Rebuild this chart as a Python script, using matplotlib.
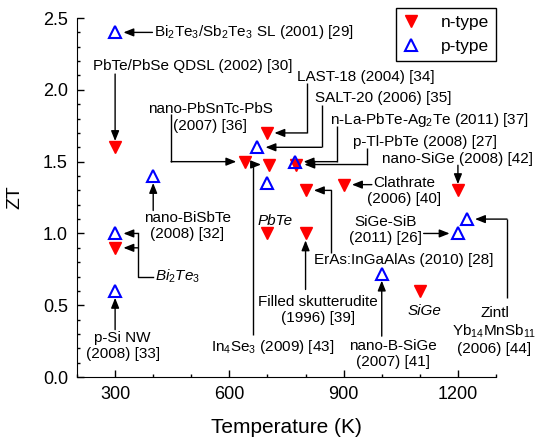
import matplotlib
matplotlib.use("Agg")
import matplotlib.pyplot as plt
from matplotlib.ticker import MultipleLocator

plt.rcParams['font.family'] = ['Liberation Sans', 'DejaVu Sans']
plt.rcParams['mathtext.fontset'] = 'custom'
plt.rcParams['mathtext.rm'] = 'Liberation Sans'
plt.rcParams['mathtext.it'] = 'Liberation Sans:italic'
plt.rcParams['mathtext.default'] = 'regular'

# n-type materials: temperature (K) and peak ZT
n_temp = [300, 300, 640, 705, 700, 775, 700, 800, 800, 900, 1200, 1100]
n_zt = [1.6, 0.9, 1.5, 1.48, 1.7, 1.48, 1.0, 1.0, 1.3, 1.34, 1.3, 0.6]

# p-type materials
p_temp = [300, 300, 300, 400, 673, 700, 773, 1000, 1200, 1223]
p_zt = [2.4, 1.0, 0.6, 1.4, 1.6, 1.35, 1.5, 0.72, 1.0, 1.1]

ANN = 11
ARROW = dict(arrowstyle='-|>,head_length=0.55,head_width=0.22', color='k',
             lw=1, shrinkA=0, mutation_scale=11)


def pointer(ax, pts, target, shrink=5):
    # plain line through pts, then an arrow from the last one onto the marker
    if len(pts) > 1:
        ax.plot([p[0] for p in pts], [p[1] for p in pts], color='k', lw=1,
                clip_on=False, solid_capstyle='butt')
    ax.annotate('', xy=target, xytext=pts[-1], annotation_clip=False,
                arrowprops=dict(ARROW, shrinkB=shrink))


fig = plt.figure(figsize=(5.36, 4.4), dpi=100)
ax = fig.add_axes([0.1437, 0.143, 0.7817, 0.816])

ax.plot(n_temp, n_zt, 'v', color='red', ms=9, mec='red', label='n-type', zorder=3)
ax.plot(p_temp, p_zt, '^', color='blue', ms=8.5, mfc='none', mew=1.5,
        label='p-type', zorder=4)

ax.set_xlim(200, 1300)
ax.set_ylim(0, 2.5)
ax.xaxis.set_major_locator(MultipleLocator(300))
ax.xaxis.set_minor_locator(MultipleLocator(100))
ax.yaxis.set_major_locator(MultipleLocator(0.5))
ax.yaxis.set_minor_locator(MultipleLocator(0.1))
ax.yaxis.set_major_formatter(matplotlib.ticker.FormatStrFormatter('%.1f'))
for s in ['top', 'right']:
    ax.spines[s].set_visible(False)
ax.tick_params(which='both', direction='in', width=1, labelsize=13)
ax.tick_params(which='major', length=5, pad=6.5)
ax.tick_params(which='minor', length=2.5)
ax.set_xlabel('Temperature (K)', fontsize=15)
ax.set_ylabel('ZT', fontsize=14)
ax.xaxis.set_label_coords(0.5, -0.114)
ax.yaxis.set_label_coords(-0.129, 0.5)

# labels and pointers
ax.text(403, 2.4, 'Bi$_2$Te$_3$/Sb$_2$Te$_3$ SL (2001) [29]', fontsize=ANN,
        ha='left', va='center')
pointer(ax, [(398, p_zt[0])], (p_temp[0], p_zt[0]), shrink=6)

ax.text(503, 2.165, 'PbTe/PbSe QDSL (2002) [30]', fontsize=ANN, ha='center', va='center')
pointer(ax, [(n_temp[0], 2.11)], (n_temp[0], n_zt[0]), shrink=4.5)

ax.text(958, 2.09, 'LAST-18 (2004) [34]', fontsize=ANN, ha='center', va='center')
pointer(ax, [(803, 2.05), (803, n_zt[4])], (n_temp[4], n_zt[4]), shrink=5)

ax.text(1003, 1.94, 'SALT-20 (2006) [35]', fontsize=ANN, ha='center', va='center')
pointer(ax, [(842, 1.895), (842, p_zt[4])], (p_temp[4], p_zt[4]), shrink=6)

ax.text(1124, 1.79, 'n-La-PbTe-Ag$_2$Te (2011) [37]', fontsize=ANN,
        ha='center', va='center')
pointer(ax, [(882, 1.745), (882, p_zt[6])], (p_temp[6], p_zt[6]), shrink=6)

ax.text(1113, 1.64, 'p-Tl-PbTe (2008) [27]', fontsize=ANN, ha='center', va='center')
pointer(ax, [(960, 1.595), (960, n_zt[5])], (n_temp[5], n_zt[5]), shrink=6)

ax.text(1200, 1.52, 'nano-SiGe (2008) [42]', fontsize=ANN, ha='center', va='center')
pointer(ax, [(n_temp[10], 1.475)], (n_temp[10], n_zt[10]), shrink=4.5)

ax.text(550, 1.807, 'nano-PbSnTc-PbS\n(2007) [36]', fontsize=ANN, ha='center',
        va='center', linespacing=1.2)
pointer(ax, [(447, 1.83), (447, n_zt[2])], (n_temp[2], n_zt[2]), shrink=6)

ax.text(713, 0.21, 'In$_4$Se$_3$ (2009) [43]', fontsize=ANN, ha='center', va='center')
pointer(ax, [(663, 0.29), (663, n_zt[3])], (n_temp[3], n_zt[3]), shrink=6)

ax.text(832, 0.465, 'Filled skutterudite\n(1996) [39]', fontsize=ANN, ha='center',
        va='center', linespacing=1.2)
pointer(ax, [(n_temp[7], 0.61)], (n_temp[7], n_zt[7]), shrink=5)

ax.text(1058, 0.815, 'ErAs:InGaAlAs (2010) [28]', fontsize=ANN, ha='center', va='center')
pointer(ax, [(868, 0.865), (868, n_zt[8])], (n_temp[8], n_zt[8]), shrink=6)

ax.text(1058, 1.295, 'Clathrate\n(2006) [40]', fontsize=ANN, ha='center',
        va='center', linespacing=1.2)
pointer(ax, [(974, n_zt[9])], (n_temp[9], n_zt[9]), shrink=6)

ax.text(913, 1.025, 'SiGe-SiB\n(2011) [26]', fontsize=ANN, ha='left',
        va='center', linespacing=1.2, multialignment='center')
pointer(ax, [(1110, p_zt[8])], (p_temp[8], p_zt[8]), shrink=6)

ax.text(1296, 0.32, 'Zintl\nYb$_{14}$MnSb$_{11}$\n(2006) [44]', fontsize=ANN,
        ha='center', va='center', linespacing=1.2)
pointer(ax, [(1329, 0.55), (1329, p_zt[9])], (p_temp[9], p_zt[9]), shrink=6)

ax.text(1029, 0.16, 'nano-B-SiGe\n(2007) [41]', fontsize=ANN, ha='center',
        va='center', linespacing=1.2)
pointer(ax, [(p_temp[7], 0.285)], (p_temp[7], p_zt[7]), shrink=5)

ax.text(489, 1.05, 'nano-BiSbTe\n(2008) [32]', fontsize=ANN, ha='center',
        va='center', linespacing=1.2)
pointer(ax, [(p_temp[3], 1.16)], (p_temp[3], p_zt[3]), shrink=5)

ax.text(320, 0.215, 'p-Si NW\n(2008) [33]', fontsize=ANN, ha='center',
        va='center', linespacing=1.2)
pointer(ax, [(p_temp[2], 0.33)], (p_temp[2], p_zt[2]), shrink=5)

# Bi2Te3 fork to both the p and n points at 300 K
ax.text(405, 0.70, r'$\mathit{Bi_2Te_3}$', fontsize=ANN, ha='left', va='center')
ax.plot([400, 360, 360], [0.70, 0.70, p_zt[1]], color='k', lw=1)
pointer(ax, [(360, p_zt[1])], (p_temp[1], p_zt[1]), shrink=6)
pointer(ax, [(360, n_zt[1])], (n_temp[1], n_zt[1]), shrink=6)

ax.text(721, 1.09, 'PbTe', fontsize=ANN, style='italic', ha='center', va='center')
ax.text(1111, 0.46, 'SiGe', fontsize=ANN, style='italic', ha='center', va='center')

leg = ax.legend(loc='upper right', bbox_to_anchor=(1.0, 1.028), borderaxespad=0,
                fontsize=12.5, handlelength=1.0, handletextpad=1.2,
                fancybox=False, edgecolor='k', framealpha=1)
leg.get_frame().set_linewidth(1)

fig.savefig('out.png', dpi=100)
